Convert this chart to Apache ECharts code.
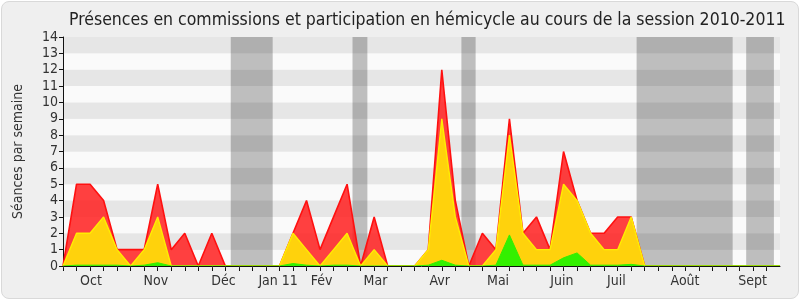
<!DOCTYPE html>
<html>
<head>
<meta charset="utf-8">
<script src="https://cdn.jsdelivr.net/npm/echarts@6/dist/echarts.min.js"></script>
<style>
html,body{margin:0;padding:0;background:#ffffff;}
#frame{position:absolute;left:1px;top:1px;width:796px;height:296px;border:1px solid #d9d9d9;border-radius:8px;background:#efefef;overflow:hidden;}
#chart{width:796px;height:296px;}
</style>
</head>
<body>
<div id="frame"><div id="chart"></div></div>
<script>
// Week index 0..53 (session 2010-2011)
var weeks = [];
for (var w = 0; w <= 53; w++) weeks.push(w);

// Overall sessions per week (red)
var redValues = [0,5,5,4,1,1,1,5,1,2,0,2,0,0,0,0,0,2,4,1,3,5,0,3,0,0,0,1,12,4,0,2,1,9,2,3,1,7,4,2,2,3,3,0,0,0,0,0,0,0,0,0,0,0];
// Hémicycle participation (yellow)
var yellowValues = [0,2,2,3,1,0,1,3,0,0,0,0,0,0,0,0,0,2,1,0,1,2,0,1,0,0,0,1,9,3,0,0,1,8,2,1,1,5,4,2,1,1,3,0,0,0,0,0,0,0,0,0,0,0];
// Commission presence (green)
var greenValues = [0,0.05,0.05,0.05,0.05,0,0.05,0.2,0,0,0,0,0,0,0,0,0,0.15,0.05,0,0.05,0.05,0,0,0,0,0,0.05,0.35,0.05,0,0,0.05,1.9,0.05,0.05,0.05,0.5,0.8,0.05,0.05,0.05,0.1,0,0,0,0,0,0,0,0,0,0,0];

// Month labels and their positions (in week units)
var monthNames = ['Oct','Nov','Déc','Jan 11','Fév','Mar','Avr','Mai','Juin','Juil','Août','Sept'];
var monthPos = [2.07,6.86,11.86,15.9,19.12,23.1,27.85,32.16,36.88,40.9,45.98,50.97];

// Vacation periods (week units)
var vacStart = [12.4,21.4,29.45,42.4,50.5];
var vacEnd = [15.5,22.5,30.5,49.5,52.55];

function pairs(vals){ return weeks.map(function(w,i){ return [w, vals[i]]; }); }

var chart = echarts.init(document.getElementById('chart'), null, {renderer:'canvas'});
var font = '"DejaVu Sans Condensed", "DejaVu Sans", sans-serif';
var option = {
  animation: false,
  backgroundColor: 'transparent',
  title: {
    text: 'Présences en commissions et participation en hémicycle au cours de la session 2010-2011',
    left: 62, top: 4,
    textStyle: {fontFamily: font, fontSize: 17.5, fontWeight: 'normal', color: '#222'}
  },
  grid: {left: 61, right: 18, top: 35, bottom: 32, containLabel: false},
  xAxis: [{
    type: 'value', min: 0, max: 53, interval: 1, position: 'bottom', z: 6,
    axisLine: {show: true, onZero: false, lineStyle: {color: '#111', width: 1}},
    axisTick: {show: true, length: 5, customValues: weeks.slice(0,53), lineStyle: {color: '#111'}},
    axisLabel: {
      customValues: monthPos, margin: 8,
      fontFamily: font, fontSize: 14, color: '#333',
      formatter: function(v){ var k = monthPos.indexOf(v); return k >= 0 ? monthNames[k] : ''; }
    },
    splitLine: {show: false}
  },{
    type: 'value', min: 0, max: 53, interval: 1, position: 'top', z: 6,
    axisLine: {show: false},
    axisTick: {show: true, inside: true, length: 2, customValues: weeks.slice(0,53), lineStyle: {color: '#333'}},
    axisLabel: {show: false},
    splitLine: {show: false}
  }],
  yAxis: {
    type: 'value', min: 0, max: 14, interval: 1,
    name: 'Séances par semaine', nameLocation: 'middle', nameGap: 38,
    nameTextStyle: {fontFamily: font, fontSize: 14, color: '#333'},
    axisLine: {show: true, lineStyle: {color: '#111'}},
    axisTick: {show: true, length: 4, lineStyle: {color: '#111'}},
    axisLabel: {fontFamily: font, fontSize: 14, color: '#333', margin: 5},
    splitLine: {show: false},
    splitArea: {show: true, areaStyle: {color: ['#fafafa', '#e6e6e6']}}
  },
  series: [{
    type: 'line', data: [], z: 1, silent: true,
    markArea: {
      silent: true,
      itemStyle: {color: 'rgba(0,0,0,0.24)'},
      data: vacStart.map(function(s,i){ return [{xAxis: s}, {xAxis: vacEnd[i]}]; })
    }
  },{
    name: 'red', type: 'line', data: pairs(redValues), z: 2,
    symbol: 'none', smooth: false,
    lineStyle: {color: '#ff1010', width: 1.6},
    areaStyle: {color: 'rgba(255,30,30,0.85)', opacity: 1}
  },{
    name: 'yellow', type: 'line', data: pairs(yellowValues), z: 3,
    symbol: 'none',
    lineStyle: {color: '#ffee00', width: 1.4},
    areaStyle: {color: '#ffd20c', opacity: 1}
  },{
    name: 'green', type: 'line', data: pairs(greenValues), z: 4,
    symbol: 'none',
    lineStyle: {color: '#33ee00', width: 1},
    areaStyle: {color: '#33f000', opacity: 1}
  }]
};
chart.setOption(option);
</script>
</body>
</html>
